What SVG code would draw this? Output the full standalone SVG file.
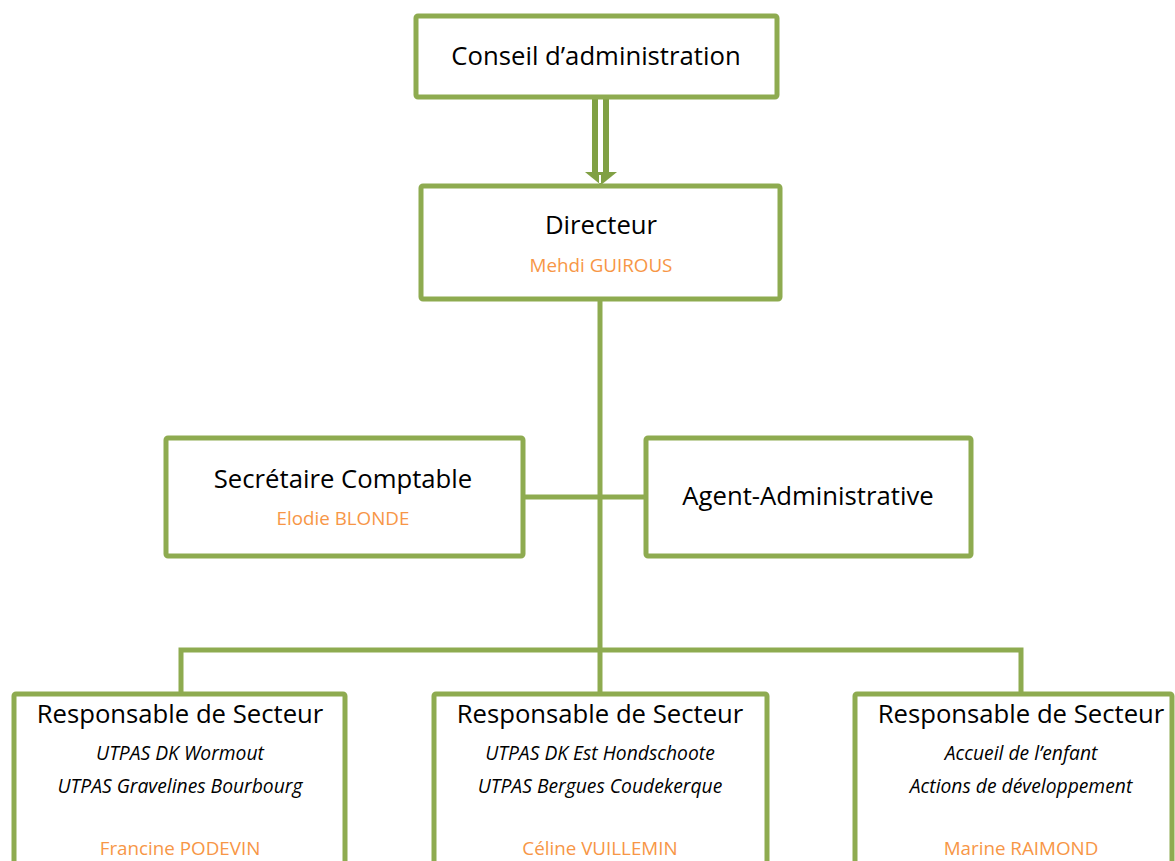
<svg xmlns="http://www.w3.org/2000/svg" width="1175" height="861" viewBox="0 0 1175 861">
  <style>
    .box { fill: #ffffff; stroke: #8eab50; stroke-width: 5; }
    .wire { fill: none; stroke: #8eab50; stroke-width: 5; }
    .title { font-family: "Open Sans", "Liberation Sans", sans-serif; font-size: 25.7px; fill: #000000; text-anchor: middle; }
    .name { font-family: "Open Sans", "Liberation Sans", sans-serif; font-size: 18.8px; fill: #f79646; text-anchor: middle; }
    .detail { font-family: "Open Sans", "Liberation Sans", sans-serif; font-size: 19.3px; font-style: italic; fill: #000000; text-anchor: middle; }
  </style>

  <!-- connectors -->
  <g id="connectors">
    <!-- double-line arrow from board to director -->
    <rect x="592" y="97" width="6" height="78" fill="#80a044"/>
    <rect x="603" y="97" width="6" height="78" fill="#80a044"/>
    <polygon points="585,172 617,172 601,185" fill="#80a044"/>
    <line x1="600" y1="175" x2="600" y2="183" stroke="#ffffff" stroke-width="2"/>
    <!-- director down to the sector bus -->
    <line class="wire" x1="600" y1="300" x2="600" y2="650"/>
    <!-- staff link -->
    <line class="wire" x1="523" y1="497" x2="646" y2="497"/>
    <!-- sector bus -->
    <polyline class="wire" points="181,694 181,650 1021,650 1021,694"/>
    <line class="wire" x1="600" y1="650" x2="600" y2="694"/>
  </g>

  <g id="conseil">
    <rect class="box" x="416" y="16" width="361" height="81" rx="2"/>
    <text class="title" x="596" y="65">Conseil d’administration</text>
  </g>

  <g id="directeur">
    <rect class="box" x="421" y="186" width="359" height="113" rx="2"/>
    <text class="title" x="601" y="234">Directeur</text>
    <text class="name" x="601" y="272">Mehdi GUIROUS</text>
  </g>

  <g id="secretaire">
    <rect class="box" x="166" y="438" width="357" height="118" rx="2"/>
    <text class="title" x="343" y="488">Secrétaire Comptable</text>
    <text class="name" x="343" y="525">Elodie BLONDE</text>
  </g>

  <g id="agent">
    <rect class="box" x="646" y="438" width="325" height="118" rx="2"/>
    <text class="title" x="808" y="505">Agent-Administrative</text>
  </g>

  <g id="secteur1">
    <rect class="box" x="14" y="694" width="331" height="200" rx="2"/>
    <text class="title" x="180" y="723">Responsable de Secteur</text>
    <text class="detail" x="180" y="760">UTPAS DK Wormout</text>
    <text class="detail" x="180" y="793">UTPAS Gravelines Bourbourg</text>
    <text class="name" x="180" y="855">Francine PODEVIN</text>
  </g>

  <g id="secteur2">
    <rect class="box" x="434" y="694" width="333" height="200" rx="2"/>
    <text class="title" x="600" y="723">Responsable de Secteur</text>
    <text class="detail" x="600" y="760">UTPAS DK Est Hondschoote</text>
    <text class="detail" x="600" y="793">UTPAS Bergues Coudekerque</text>
    <text class="name" x="600" y="855">Céline VUILLEMIN</text>
  </g>

  <g id="secteur3">
    <rect class="box" x="855" y="694" width="317" height="200" rx="2"/>
    <text class="title" x="1021" y="723">Responsable de Secteur</text>
    <text class="detail" x="1021" y="760">Accueil de l’enfant</text>
    <text class="detail" x="1021" y="793">Actions de développement</text>
    <text class="name" x="1021" y="855">Marine RAIMOND</text>
  </g>
</svg>
